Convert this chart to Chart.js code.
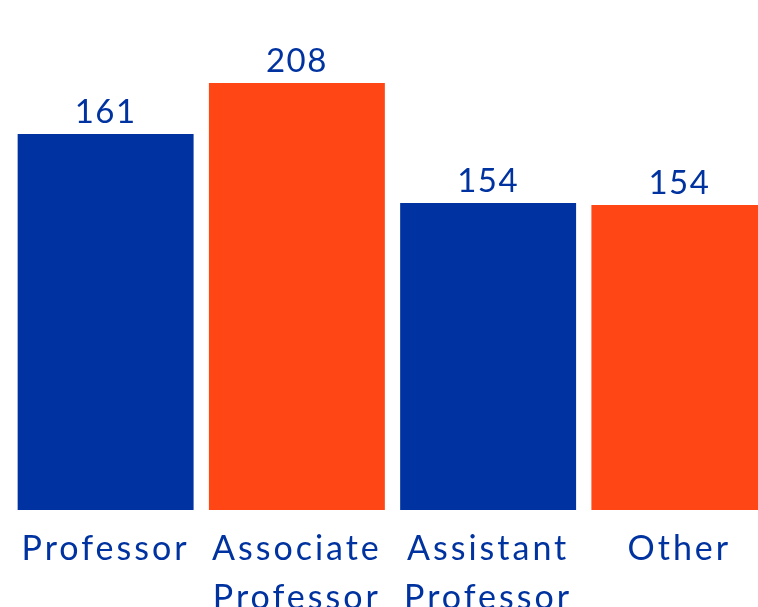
<!DOCTYPE html>
<html>
<head>
<meta charset="utf-8">
<script src="https://cdn.jsdelivr.net/npm/chart.js@4.4.1/dist/chart.umd.min.js"></script>
<style>
  html,body{margin:0;padding:0;background:#fff;overflow:hidden;}
  #wrap{width:775px;height:640px;position:relative;}
</style>
</head>
<body>
<div id="wrap"><canvas id="c"></canvas></div>
<script>
/* faculty by rank – bars as drawn, numbers as printed above them */
const categories = [["Professor"], ["Associate","Professor"], ["Assistant","Professor"], ["Other"]];
const barValues = [376, 427, 307, 305];      // bar lengths
const valueLabels = ["161", "208", "154", "154"];
const barColors = ["#0033A1", "#FF4614", "#0033A1", "#FF4614"];
const TEXT = "#0033A0";
const FONT = "Lato";

const topLabels = {
  id:"topLabels",
  afterDatasetsDraw(chart){
    const ctx = chart.ctx, meta = chart.getDatasetMeta(0);
    ctx.save();
    ctx.letterSpacing = "1.5px";
    ctx.font = `400 33px ${FONT}`;
    ctx.fillStyle = TEXT;
    ctx.textAlign = "center";
    ctx.textBaseline = "alphabetic";
    meta.data.forEach((bar,i)=>{ ctx.fillText(valueLabels[i], bar.x, bar.y - 11); });
    ctx.restore();
  }
};
const spacing = {
  id:"spacing",
  beforeUpdate(chart){ chart.ctx.letterSpacing = "3px"; },
  beforeDraw(chart){ chart.ctx.letterSpacing = "3px"; }
};

new Chart(document.getElementById("c"), {
  type:"bar",
  data:{ labels:categories, datasets:[{ data:barValues, backgroundColor:barColors, borderWidth:0,
    barPercentage:0.92, categoryPercentage:1 }] },
  options:{
    responsive:true, maintainAspectRatio:false, animation:false,
    layout:{ padding:{ left:10, right:0, top:0, bottom:0 } },
    plugins:{ legend:{display:false}, tooltip:{enabled:false} },
    scales:{
      y:{ display:false, min:0, max:510 },
      x:{ grid:{display:false, drawBorder:false}, border:{display:false},
          afterFit(s){ s.height = 130; },
          ticks:{ color:TEXT, font:{family:FONT, size:34, lineHeight:1.45}, padding:6, maxRotation:0, autoSkip:false } }
    }
  },
  plugins:[spacing, topLabels]
});
</script>
</body>
</html>
